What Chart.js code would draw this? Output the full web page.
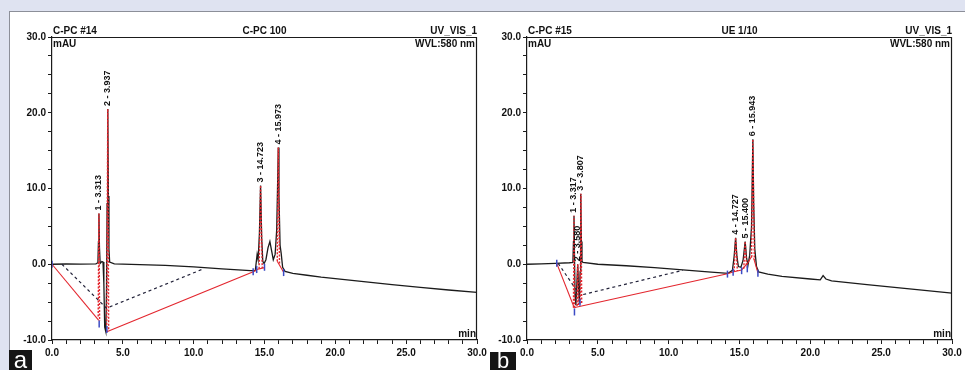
<!DOCTYPE html>
<html>
<head>
<meta charset="utf-8">
<script src="https://cdn.jsdelivr.net/npm/chart.js@4.4.1/dist/chart.umd.min.js"></script>
<style>
    html, body { margin: 0; padding: 0; }
    body { width: 965px; height: 370px; background: #dfe3f1; position: relative; overflow: hidden; font-family: "Liberation Sans", Arial, sans-serif; }
    #sheet { position: absolute; left: 9px; top: 11px; right: 0; bottom: 0; background: #fff; border-top: 1px solid #8c8f99; border-left: 1px solid #8c8f99; }
    canvas { position: absolute; top: 0; }
    #chartA { left: 0; }
    #chartB { left: 470px; }
    .tag { position: absolute; background: #151515; color: #fff; text-align: center; z-index: 2; }
    #tagA { left: 9px; top: 350px; width: 23px; height: 20px; font-size: 24px; line-height: 20px; }
    #tagB { left: 490px; top: 352px; width: 26px; height: 18px; font-size: 22px; line-height: 18px; }
</style>
</head>
<body>
<div id="sheet"></div>
<canvas id="chartA" width="495" height="370"></canvas>
<canvas id="chartB" width="495" height="370"></canvas>
<div class="tag" id="tagA">a</div>
<div class="tag" id="tagB">b</div>
<script>
// axis ticks (min, mAU)
const xTicks = [0, 5, 10, 15, 20, 25, 30];
const yTicks = [-10, 0, 10, 20, 30];

// ---- panel a : C-PC #14 / C-PC 100 ----
const traceA = [[0,0],[1,0.03],[2,0.02],[3.1,0.05],[3.24,0.2],[3.28,3.0],[3.313,6.7],[3.35,2.2],[3.40,0.1],[3.52,0.35],[3.60,0.3],[3.66,-2.5],[3.72,-8.3],[3.80,-8.9],[3.85,-3.0],[3.89,8.0],[3.937,20.5],[3.98,9.0],[4.02,2.0],[4.07,0.3],[4.4,0.05],[8,-0.15],[10,-0.35],[12,-0.6],[14,-0.85],[14.35,-0.85],[14.48,1.3],[14.55,0.6],[14.64,4.0],[14.723,10.4],[14.8,3.5],[14.88,0.4],[14.97,0.1],[15.1,0.6],[15.25,2.2],[15.38,3.0],[15.5,1.8],[15.62,0.6],[15.75,1.3],[15.86,4.5],[15.93,11],[15.973,15.4],[16.02,9],[16.1,2.5],[16.18,1.4],[16.28,-0.4],[16.45,-0.95],[17,-1.2],[18,-1.45],[19,-1.7],[20,-1.9],[22,-2.3],[24,-2.7],[26,-3.05],[28,-3.4],[30,-3.7]];
const baseA = [
    [[0,0],[3.3,-7.4]],
    [[3.87,-8.9],[14.25,-0.95],[14.45,-0.7],[15.0,-0.45]],
    [[15.9,0.4],[16.35,-1.05]]
];
const dropA = [
    [[3.26,-6.9],[3.313,6.7],[3.36,-7.5]],
    [[3.86,-8.9],[3.937,20.5],[4.0,-8.6]],
    [[14.62,-0.6],[14.723,10.4],[14.84,-0.5]],
    [[15.9,0.4],[15.973,15.4],[16.06,0.0]]
];
const dashA = [[0.7,0],[3.85,-5.8],[10.7,-0.6]];
const marksA = [[0,0],[3.33,-7.9],[3.87,-8.6],[14.2,-1.0],[14.45,-0.7],[15.0,-0.4],[16.35,-1.1]];
const peakNamesA = ["1 - 3.313", "2 - 3.937", "3 - 14.723", "4 - 15.973"];
const peakTimesA = [3.313, 3.937, 14.723, 15.973];
const peakHeightsA = [6.7, 20.5, 10.4, 15.4];

// ---- panel b : C-PC #15 / UE 1/10 ----
const traceB = [[0,0],[1,0.05],[2,0.12],[3.0,0.2],[3.24,0.25],[3.28,3.0],[3.317,6.4],[3.35,1.5],[3.39,-4.0],[3.45,-5.4],[3.52,-2.5],[3.58,0.0],[3.64,-3.0],[3.70,-5.2],[3.75,-1.0],[3.78,5.0],[3.807,9.3],[3.84,3.0],[3.88,0.4],[3.95,0.25],[5,0.0],[7,-0.2],[9,-0.45],[11,-0.75],[13,-1.05],[14.2,-1.2],[14.5,-0.8],[14.62,1.0],[14.727,3.5],[14.82,1.0],[14.92,-0.3],[15.1,-0.4],[15.25,0.5],[15.4,3.0],[15.5,0.8],[15.6,-0.1],[15.72,1.2],[15.85,5],[15.943,16.5],[16.0,8],[16.08,2],[16.2,-0.3],[16.35,-1.0],[17,-1.3],[18,-1.6],[20,-1.95],[20.7,-2.05],[20.9,-1.5],[21.1,-1.95],[21.5,-2.2],[24,-2.7],[27,-3.25],[30,-3.8]];
const baseB = [
    [[2.1,0.12],[3.35,-5.8]],
    [[3.38,-5.7],[14.15,-1.25],[14.6,-1.0],[15.15,-0.75],[15.6,0.2],[15.9,1.2]],
    [[16.0,0.8],[16.3,-1.15]]
];
const dropB = [
    [[3.28,-5.75],[3.317,6.4],[3.36,-5.7]],
    [[3.53,-5.5],[3.58,0.0],[3.63,-5.4]],
    [[3.75,-5.2],[3.807,9.3],[3.86,-5.1]],
    [[14.62,-1.0],[14.727,3.5],[14.85,-0.9]],
    [[15.3,-0.6],[15.4,3.0],[15.5,-0.4]],
    [[15.85,0.9],[15.943,16.5],[16.05,0.6]]
];
const dashB = [[2.2,0.12],[3.74,-4.1],[11.0,-0.8]];
const marksB = [[2.1,0.12],[3.35,-6.3],[3.74,-5.0],[14.15,-1.3],[14.55,-1.05],[15.15,-0.85],[15.55,-0.6],[16.3,-1.2]];
const peakNamesB = ["1 - 3.317", "2 - 3.580", "3 - 3.807", "4 - 14.727", "5 - 15.400", "6 - 15.943"];
const peakTimesB = [3.317, 3.58, 3.807, 14.727, 15.4, 15.943];
const peakHeightsB = [6.4, 0.0, 9.3, 3.5, 3.0, 16.5];

const FONT = '"Liberation Sans", Arial, sans-serif';
const INK = '#1b1b1b';
const RED = '#e3262e';
const BLUE = '#3c4bc4';

const pts = arr => arr.map(p => ({ x: p[0], y: p[1] }));

// frame, header texts and peak names
const panelText = {
    id: 'panelText',
    afterDraw(chart, args, o) {
        const { ctx, chartArea: a, scales } = chart;
        ctx.save();
        ctx.strokeStyle = INK;
        ctx.lineWidth = 1.2;
        ctx.beginPath();
        ctx.moveTo(a.left, a.top + 0.5);
        ctx.lineTo(a.right - 0.5, a.top + 0.5);
        ctx.lineTo(a.right - 0.5, a.bottom);
        ctx.stroke();

        ctx.fillStyle = '#111';
        ctx.font = 'bold 10px ' + FONT;
        ctx.textBaseline = 'alphabetic';
        ctx.textAlign = 'left';
        ctx.fillText(o.left, a.left + 1, a.top - 3);
        ctx.fillText('mAU', a.left + 1, a.top + 10);
        ctx.textAlign = 'center';
        ctx.fillText(o.center, (a.left + a.right) / 2, a.top - 3);
        ctx.textAlign = 'right';
        ctx.fillText('UV_VIS_1', a.right, a.top - 3);
        ctx.fillText('WVL:580 nm', a.right - 2, a.top + 10);
        ctx.fillText('min', a.right - 1, a.bottom - 3);

        ctx.font = 'bold 9px ' + FONT;
        ctx.textAlign = 'left';
        ctx.textBaseline = 'middle';
        o.names.forEach((name, i) => {
            const x = scales.x.getPixelForValue(o.times[i]);
            const y = scales.y.getPixelForValue(o.heights[i]) - 3;
            ctx.save();
            ctx.translate(x, y);
            ctx.rotate(-Math.PI / 2);
            ctx.fillText(name, 0, 0);
            ctx.restore();
        });
        ctx.restore();
    }
};

function buildPanel(id, p) {
    const datasets = [];
    datasets.push({ data: pts(p.marks), showLine: false, pointStyle: 'line', rotation: 90, pointRadius: 3.5, borderColor: BLUE, borderWidth: 1.5 });
    p.drops.forEach(d => datasets.push({ data: pts(d), borderColor: RED, borderWidth: 1.4, borderDash: [2, 1.5] }));
    p.base.forEach(d => datasets.push({ data: pts(d), borderColor: RED, borderWidth: 1.1 }));
    datasets.push({ data: pts(p.dash), borderColor: '#23233a', borderWidth: 1.2, borderDash: [3, 3] });
    datasets.push({ data: pts(p.trace), borderColor: INK, borderWidth: 1.3 });

    const tickFont = { family: FONT, size: 10, weight: 'bold' };
    return new Chart(document.getElementById(id), {
        type: 'line',
        data: { datasets: datasets },
        options: {
            responsive: false,
            animation: false,
            devicePixelRatio: 1,
            layout: { padding: { top: 37, right: p.padRight, bottom: 0, left: 0 } },
            elements: { point: { radius: 0 }, line: { tension: 0 } },
            plugins: {
                legend: { display: false },
                tooltip: { enabled: false },
                panelText: { left: p.left, center: p.center, names: p.names, times: p.times, heights: p.heights }
            },
            scales: {
                x: {
                    type: 'linear', min: 0, max: 30,
                    border: { color: INK, width: 1.2 },
                    grid: { drawOnChartArea: false, tickLength: 4, color: INK },
                    ticks: {
                        stepSize: 1, autoSkip: false, maxRotation: 0, padding: 3, color: '#111', font: tickFont,
                        callback: v => xTicks.includes(v) ? v.toFixed(1) : ''
                    },
                    afterFit: s => { s.height = 30; }
                },
                y: {
                    min: -10, max: 30,
                    border: { color: INK, width: 1.2 },
                    grid: { drawOnChartArea: false, tickLength: 4, color: INK },
                    ticks: {
                        stepSize: 2.5, autoSkip: false, padding: 2, color: '#111', font: tickFont,
                        callback: v => yTicks.includes(v) ? v.toFixed(1) : ''
                    },
                    afterFit: s => { s.width = p.axisWidth; }
                }
            }
        },
        plugins: [panelText]
    });
}

buildPanel('chartA', {
    trace: traceA, base: baseA, drops: dropA, dash: dashA, marks: marksA,
    names: peakNamesA, times: peakTimesA, heights: peakHeightsA,
    left: 'C-PC #14', center: 'C-PC 100', axisWidth: 52, padRight: 18
});
buildPanel('chartB', {
    trace: traceB, base: baseB, drops: dropB, dash: dashB, marks: marksB,
    names: peakNamesB, times: peakTimesB, heights: peakHeightsB,
    left: 'C-PC #15', center: 'UE 1/10', axisWidth: 57, padRight: 13
});
</script>
</body>
</html>
